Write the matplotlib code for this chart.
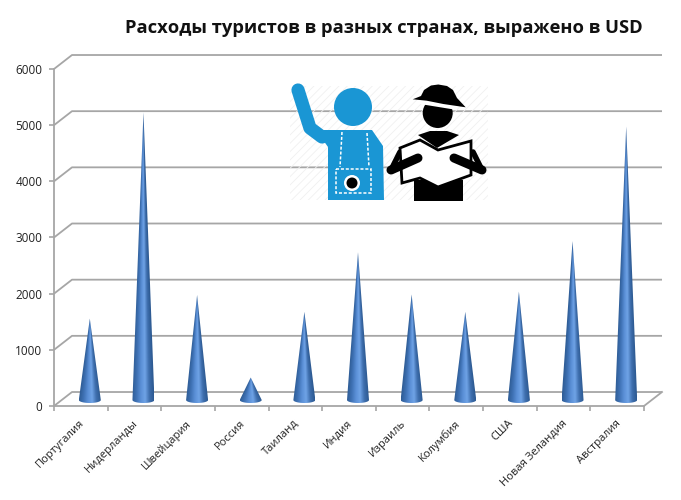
import numpy as np
import matplotlib
matplotlib.use('Agg')
import matplotlib.pyplot as plt
from matplotlib.colors import LinearSegmentedColormap
from matplotlib.patches import Polygon, Circle, Rectangle

plt.rcParams['font.family'] = ['Open Sans', 'DejaVu Sans']

title = 'Расходы туристов в разных странах, выражено в USD'
countries = ['Португалия', 'Нидерланды', 'Швейцария', 'Россия', 'Таиланд', 'Индия',
             'Израиль', 'Колумбия', 'США', 'Новая Зеландия', 'Австралия']
spending = [1450, 5120, 1870, 400, 1570, 2630, 1880, 1570, 1930, 2830, 4870]
y_ticks = [0, 1000, 2000, 3000, 4000, 5000, 6000]

GRID = '#a6a6a6'
DEPTH_X = 18 / (590 / 11)  # depth of the fake 3d box, in data units
DEPTH_Y = 14 / 56.2 * 1000
HALF_W = 0.205
BASE_Y = 6 / 56.2 * 1000
CAP_H = 3 / 56.2 * 1000

cone_cmap = LinearSegmentedColormap.from_list(
    'cone', ['#2f5d96', '#3f72b5', '#5a8fd6', '#6fa3e6', '#3f6fae', '#2d5a92'])

fig = plt.figure(figsize=(6.81, 5), dpi=100)
ax = fig.add_axes([54 / 681, 94 / 500, 590 / 681, 337 / 500])
n = len(countries)

# walls and grid
for t in y_ticks:
    ax.plot([0, DEPTH_X, n + DEPTH_X], [t, t + DEPTH_Y, t + DEPTH_Y], color=GRID, lw=1.3,
            clip_on=False, zorder=1, solid_capstyle='butt')
ax.plot([0, n], [0, 0], color=GRID, lw=1.3, clip_on=False, zorder=1)
ax.plot([n, n + DEPTH_X], [0, DEPTH_Y], color=GRID, lw=1.3, clip_on=False, zorder=1)
ax.plot([0, 0], [0, 6000], color=GRID, lw=1.3, clip_on=False, zorder=1)

# cones
for i, v in enumerate(spending):
    cx = i + 0.5 + DEPTH_X / 2
    top = BASE_Y + v
    ys = np.linspace(BASE_Y - CAP_H, top, 300)
    xs = np.linspace(-HALF_W, HALF_W, 120)
    X, Y = np.meshgrid(xs, ys)
    w = np.clip(HALF_W * (top - Y) / v, 1e-4, HALF_W)
    U = np.clip(X / w, -1, 1) * 0.5 + 0.5
    im = ax.imshow(U, extent=(cx - HALF_W, cx + HALF_W, ys[0], ys[-1]), origin='lower',
                   cmap=cone_cmap, vmin=0, vmax=1, aspect='auto', zorder=3)
    t = np.linspace(np.pi, 2 * np.pi, 30)
    outline = [(cx, top)] + list(zip(cx + HALF_W * np.cos(t), BASE_Y + CAP_H * np.sin(t)))
    clip = Polygon(outline, closed=True, transform=ax.transData, fc='none', ec='none')
    ax.add_patch(clip)
    im.set_clip_path(clip)

ax.set_xlim(0, n)
ax.set_ylim(0, 6000)
for s in ax.spines.values():
    s.set_visible(False)
ax.patch.set_alpha(0)
ax.set_yticks(y_ticks)
ax.set_xticks(range(n + 1))
ax.set_xticklabels([])
ax.tick_params(axis='both', color=GRID, length=3.5, width=1.2, labelsize=8.5, labelcolor='#222222')
ax.tick_params(axis='y', pad=5)

for i, name in enumerate(countries):
    ax.annotate(name, xy=(i + 0.5, 0), xytext=(-1.5, -8.5), textcoords='offset points',
                rotation=45, rotation_mode='anchor', ha='right', va='top',
                fontsize=8, color='#222222', annotation_clip=False)

fig.text(384 / 681, 1 - 28 / 500, title, ha='center', va='center', fontsize=13.2,
         fontweight='bold', color='#111111')

# picture of the tourists, in pixel coords
pic = fig.add_axes([0, 0, 1, 1], zorder=5)
pic.set_xlim(0, 681)
pic.set_ylim(500, 0)
pic.axis('off')

BLUE = '#1a96d4'
plt.rcParams['hatch.linewidth'] = 0.6
pic.add_patch(Rectangle((290, 86), 198, 114, fc='none', ec='#f0f0f0', hatch='////', lw=0, zorder=1))

# blue person
pic.add_patch(Circle((353, 107), 19, fc=BLUE, ec='none', zorder=2))
pic.plot([298, 310, 322], [90, 128, 137], color=BLUE, lw=9.5, solid_capstyle='round',
         solid_joinstyle='round', zorder=2)
pic.add_patch(Polygon([(316, 130), (372, 130), (383, 146), (384, 200), (328, 200), (328, 147)],
                      fc=BLUE, ec='none', zorder=2))
pic.plot([342, 340], [132, 167], color='white', lw=1.1, ls=(0, (2, 1.2)), zorder=3)
pic.plot([367, 369], [133, 167], color='white', lw=1.1, ls=(0, (2, 1.2)), zorder=3)
pic.add_patch(Rectangle((336, 169), 35, 24, fc='none', ec='white', lw=1.1, ls=(0, (2, 1.2)), zorder=3))
pic.add_patch(Circle((352, 183), 8, fc='white', ec='none', zorder=3))
pic.add_patch(Circle((352, 183), 5.5, fc='black', ec='none', zorder=4))

# black person
pic.add_patch(Circle((437.7, 113), 15, fc='black', ec='none', zorder=2))
pic.add_patch(Polygon([(420, 99), (457, 105), (457, 110), (420, 104)], fc='white', ec='none', zorder=3))
pic.add_patch(Polygon([(412.7, 99.3), (421, 96), (424, 90), (431, 85.5), (438.3, 84.5), (447, 86), (453, 90),
                       (457, 98), (465.7, 107.3), (443.3, 104), (426.7, 100.7)],
                      fc='black', ec='none', zorder=4))
pic.add_patch(Polygon([(418, 135), (430, 131), (447, 131), (459, 135), (437, 148)],
                      fc='black', ec='none', zorder=2))
pic.add_patch(Rectangle((414, 180), 49, 21, fc='black', ec='none', zorder=2))
pic.add_patch(Polygon([(400, 148), (420, 140), (438, 150), (471, 141), (471, 175), (438, 187),
                       (420, 178), (402, 183)], fc='white', ec='black', lw=2, zorder=3,
                      joinstyle='miter'))
pic.plot([391, 418], [170, 158], color='black', lw=6.5, solid_capstyle='round', zorder=4)
pic.plot([482, 454], [170, 158], color='black', lw=6.5, solid_capstyle='round', zorder=4)
pic.plot([391, 400], [170, 152], color='black', lw=4, solid_capstyle='round', zorder=2)
pic.plot([482, 473], [170, 152], color='black', lw=4, solid_capstyle='round', zorder=2)

fig.savefig('out.png', dpi=100)
